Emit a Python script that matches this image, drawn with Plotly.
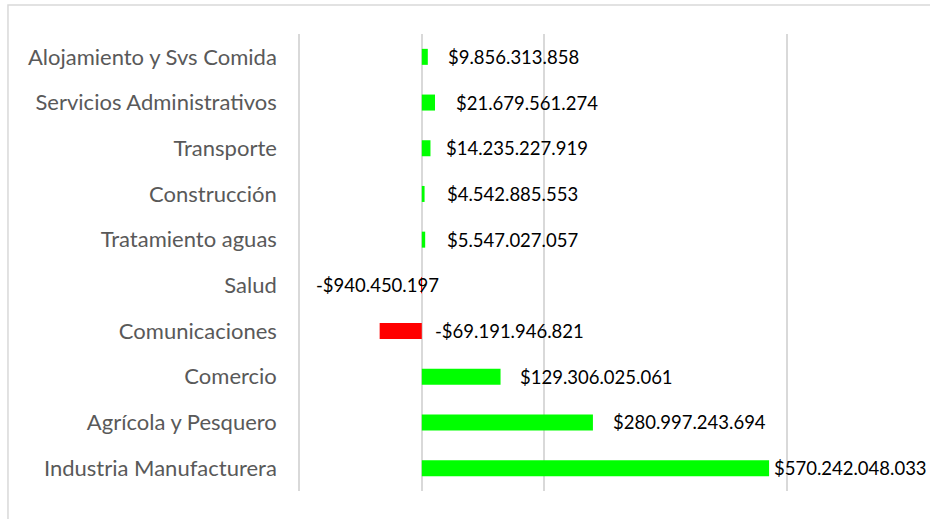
import plotly.graph_objects as go

# === Data (top to bottom as shown) ===
categories = [
    "Alojamiento y Svs Comida",
    "Servicios Administrativos",
    "Transporte",
    "Construcción",
    "Tratamiento aguas",
    "Salud",
    "Comunicaciones",
    "Comercio",
    "Agrícola y Pesquero",
    "Industria Manufacturera",
]
values = [
    9856313858,
    21679561274,
    14235227919,
    4542885553,
    5547027057,
    -940450197,
    -69191946821,
    129306025061,
    280997243694,
    570242048033,
]
grid_ticks = [-200e9, 0, 200e9, 600e9]

# label offsets (px) as placed in the original chart
label_shift = [18, 19, 14, 20, 20, 19, 11, 17, 18, 3]


def fmt_money(v):
    s = f"{abs(v):,.0f}".replace(",", ".")
    return ("-$" if v < 0 else "$") + s


FONT = "Lato, 'Noto Sans', sans-serif"

fig = go.Figure()
fig.add_trace(go.Bar(
    y=categories,
    x=values,
    orientation="h",
    width=0.35,
    marker=dict(
        color=["#00FF00" if v >= 0 else "#FF0000" for v in values],
        line=dict(width=0),
    ),
    hoverinfo="x+y",
))

# === Data labels ===
for cat, v, dx in zip(categories, values, label_shift):
    anchor = "right" if cat == "Salud" else "left"
    fig.add_annotation(
        x=max(v, 0), y=cat, xref="x", yref="y",
        text=fmt_money(v),
        showarrow=False,
        xanchor=anchor, yanchor="middle",
        xshift=dx,
        font=dict(family=FONT, size=18.5, color="#000000"),
    )

# === Chart border (Excel frame) ===
fig.add_shape(
    type="rect", xref="paper", yref="paper",
    x0=-0.4795, x1=1.3, y0=-0.2, y1=1.0635,
    line=dict(color="#d9d9d9", width=1.5),
    layer="below",
)

fig.update_layout(
    width=930, height=519,
    margin=dict(l=300, r=21, t=34, b=28),
    paper_bgcolor="white",
    plot_bgcolor="white",
    showlegend=False,
    font=dict(family=FONT),
    xaxis=dict(
        range=[-200e9, 800e9],
        tickvals=grid_ticks,
        showticklabels=False,
        showgrid=True,
        gridcolor="#d9d9d9",
        gridwidth=1.5,
        zeroline=True,
        zerolinecolor="#d9d9d9",
        zerolinewidth=1.5,
        showline=False,
    ),
    yaxis=dict(
        autorange="reversed",
        automargin=False,
        showgrid=False,
        showline=True,
        linecolor="#d9d9d9",
        linewidth=1.5,
        ticks="",
        ticklabelstandoff=17,
        tickfont=dict(family=FONT, size=22, color="#595959"),
    ),
)

fig.write_html(
    "out.html",
    config={"displayModeBar": False},
    post_script="document.body.style.margin='0';",
)
